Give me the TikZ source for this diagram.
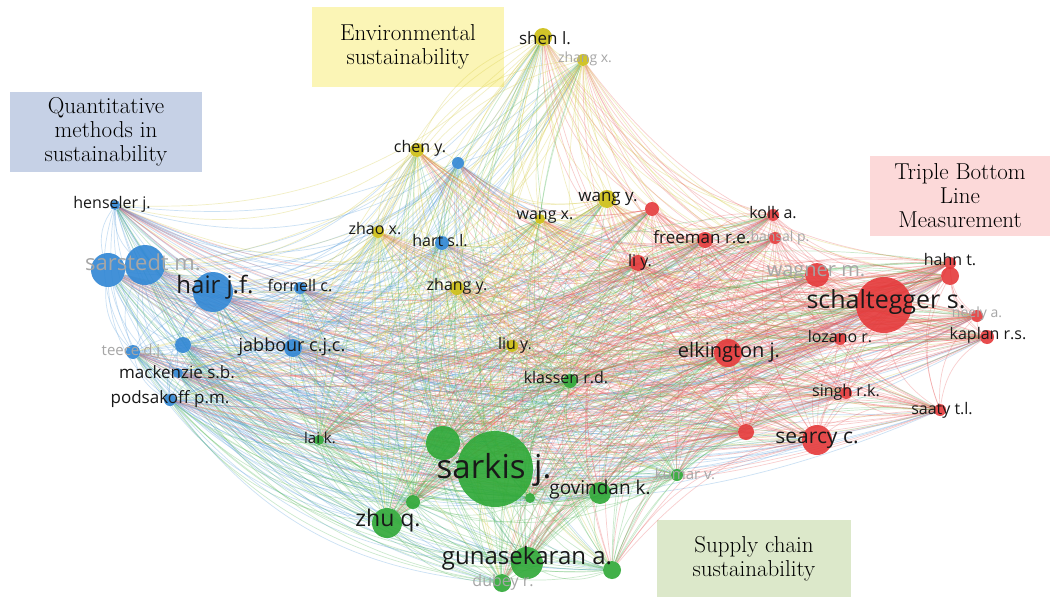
\documentclass[tikz,border=0pt]{standalone}
\usepackage{fontspec}
\setsansfont{Open Sans}
\usetikzlibrary{backgrounds}
\definecolor{vBlue}{HTML}{2F86D4}
\definecolor{vGreen}{HTML}{2EA836}
\definecolor{vRed}{HTML}{E5393A}
\definecolor{vYellow}{HTML}{CDBE12}
\definecolor{boxBlue}{HTML}{C6D1E6}
\definecolor{boxYellow}{HTML}{FBF5B6}
\definecolor{boxRed}{HTML}{FCD9D9}
\definecolor{boxGreen}{HTML}{DCE8CA}

\begin{document}
\begin{tikzpicture}[x=1pt, y=-1pt,
  bub/.style={circle, fill=#1, fill opacity=0.9, inner sep=0pt},
  link/.style={draw=#1!85!white, opacity=0.29, line width=0.7pt},
  lab/.style={text=black!90, inner sep=0pt, font=\sffamily\fontsize{#1}{#1}\selectfont},
  faint/.style={lab=#1, text=black!35},
  cluster/.style={fill=#1, minimum width=192pt, minimum height=80pt, align=center,
    font=\fontsize{23}{24}\selectfont},
]
  \useasboundingbox (0,0) rectangle (1053,597);

  % bubbles
  \foreach \n/\x/\y/\d/\c in {
    henseler/115/205/10/vBlue, sarstedt/145/265/40/vBlue, bl1/108/270/34/vBlue,
    hair/213/292/40/vBlue, fornell/300/288/12/vBlue, jabbour/293/348/18/vBlue,
    teece/133/352/14/vBlue, bl2/183/345/16/vBlue, mackenzie/178/373/10/vBlue,
    podsakoff/170/400/12/vBlue, bl3/458/163/12/vBlue, hart/442/243/14/vBlue,
    shen/543/37/18/vYellow, zhangx/583/60/12/vYellow, cheny/417/150/14/vYellow,
    zhao/378/232/12/vYellow, zhangy/457/288/14/vYellow, wangx/540/219/10/vYellow,
    wangy/607/199/18/vYellow, liu/512/346/12/vYellow,
    rd1/652/209/14/vRed, kolk/773/215/12/vRed, freeman/705/240/16/vRed,
    bansal/775/238/12/vRed, liy/638/263/16/vRed, wagner/817/275/24/vRed,
    schaltegger/884/305/56/vRed, hahn/950/263/12/vRed, rd2/950/276/18/vRed,
    neely/977/316/12/vRed, kaplan/987/337/14/vRed, lozano/840/339/12/vRed,
    elkington/728/353/28/vRed, singh/846/393/12/vRed, saaty/940/410/12/vRed,
    rd3/746/432/16/vRed, searcy/817/440/30/vRed,
    lai/319/440/10/vGreen, klassen/570/381/14/vGreen, sarkis/495/469/76/vGreen,
    gr1/443/443/34/vGreen, gr2/413/502/14/vGreen, gr3/530/498/10/vGreen,
    govindan/600/493/22/vGreen, kumar/677/475/12/vGreen, zhu/387/523/30/vGreen,
    gunasekaran/527/563/32/vGreen, gr4/612/570/18/vGreen, dubey/502/583/18/vGreen}
    \node[bub=\c, minimum size=\d pt] (\n) at (\x,\y) {};

  \def\authors{henseler/vBlue, sarstedt/vBlue, bl1/vBlue, hair/vBlue, fornell/vBlue,
    jabbour/vBlue, teece/vBlue, bl2/vBlue, mackenzie/vBlue, podsakoff/vBlue, bl3/vBlue,
    hart/vBlue, shen/vYellow, zhangx/vYellow, cheny/vYellow, zhao/vYellow, zhangy/vYellow,
    wangx/vYellow, wangy/vYellow, liu/vYellow, rd1/vRed, kolk/vRed, freeman/vRed,
    bansal/vRed, liy/vRed, wagner/vRed, schaltegger/vRed, hahn/vRed, rd2/vRed, neely/vRed,
    kaplan/vRed, lozano/vRed, elkington/vRed, singh/vRed, saaty/vRed, rd3/vRed,
    searcy/vRed, lai/vGreen, klassen/vGreen, sarkis/vGreen, gr1/vGreen, gr2/vGreen,
    gr3/vGreen, govindan/vGreen, kumar/vGreen, zhu/vGreen, gunasekaran/vGreen,
    gr4/vGreen, dubey/vGreen}

  \begin{scope}[on background layer]
    \fill[white] (0,0) rectangle (1053,597);
    \node[cluster=boxBlue] (quant) at (106,132) {Quantitative\\methods in\\sustainability};
    \node[cluster=boxYellow] (envir) at (408,47) {Environmental\\sustainability};
    \node[cluster=boxRed, minimum width=180pt] (tbl) at (960,196) {Triple Bottom\\Line\\Measurement};
    \node[cluster=boxGreen, minimum width=194pt, minimum height=78pt] (supply) at (754,559) {Supply chain\\sustainability};
    % links, coloured by one end or the other
    \foreach \a/\ca [count=\i] in \authors {
      \foreach \b/\cz [count=\j] in \authors {
        \ifnum\j>\i
          \ifodd\numexpr\i+\j\relax
            \draw[link=\ca] (\a) to[bend right=24] (\b);
          \else
            \draw[link=\cz] (\a) to[bend right=24] (\b);
          \fi
        \fi
      }
    }
  \end{scope}

  % labels
  \foreach \n/\t/\s/\dx/\dy in {
    henseler/henseler j./16/-3/-1, hair/hair j.f./24/2/-5, fornell/fornell c./16/0/-3,
    jabbour/jabbour c.j.c./18/-1/-1, mackenzie/mackenzie s.b./17/-1/-1,
    podsakoff/podsakoff p.m./17/0/-1, hart/hart s.l./16/-2/-2, shen/shen l./17/2/1,
    cheny/chen y./16/3/-2, zhao/zhao x./16/-3/-3, zhangy/zhang y./16/0/-2,
    wangx/wang x./16/5/-2, wangy/wang y./17/1/0, liu/liu y./16/3/-1,
    kolk/kolk a./16/0/-2, freeman/freeman r.e./17/-3/-3, liy/li y./16/2/-1,
    schaltegger/schaltegger s./25/2/-3, hahn/hahn t./16/0/-3,
    kaplan/kaplan r.s./16/1/-2, lozano/lozano r./16/0/-2,
    elkington/elkington j./20/1/-1, singh/singh r.k./16/0/-1, saaty/saaty t.l./16/2/0,
    searcy/searcy c./21/0/0, lai/lai k./15/1/-2, klassen/klassen r.d./16/-4/-3,
    sarkis/sarkis j./33/-1/1, govindan/govindan k./19/0/-3, zhu/zhu q./23/1/-2,
    gunasekaran/gunasekaran a./24/0/-5}
    \node[lab=\s] at ([shift={(\dx,\dy)}]\n) {\t};
  \foreach \n/\t/\s/\dx/\dy in {
    sarstedt/sarstedt m./22/-2/-3, teece/teece d.j./15/0/0, zhangx/zhang x./14/2/-1,
    bansal/bansal p./14/5/0, wagner/wagner m./20/-1/-2, neely/neely a./14/0/-2,
    kumar/kumar v./15/8/-1, dubey/dubey r./16/1/-1}
    \node[faint=\s] at ([shift={(\dx,\dy)}]\n) {\t};
\end{tikzpicture}
\end{document}
